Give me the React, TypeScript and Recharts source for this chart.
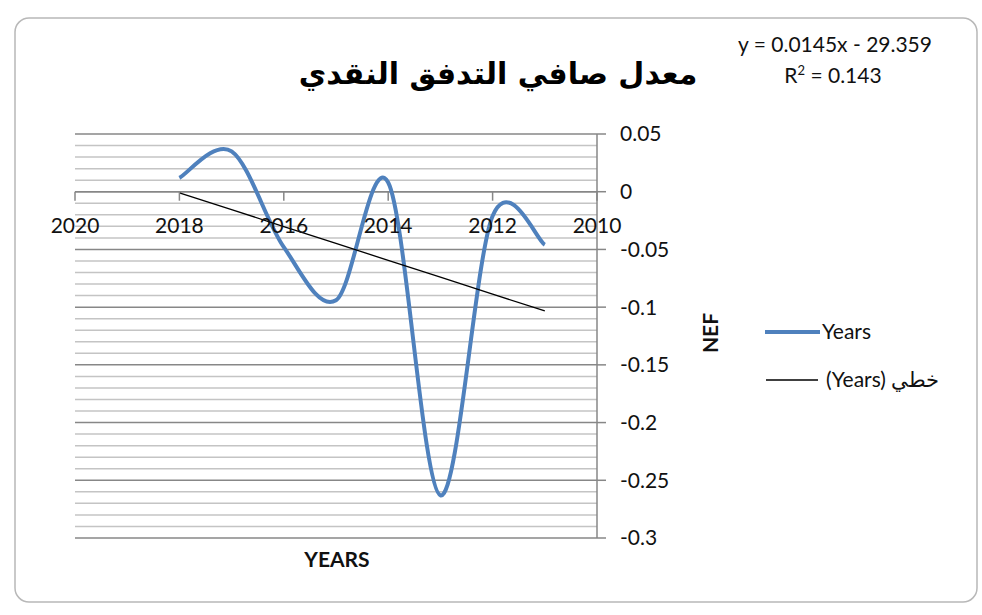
import React from "react"
import { LineChart, Line, XAxis, YAxis, CartesianGrid, ReferenceLine } from 'recharts'

const YEARS = [2018, 2017, 2016, 2015, 2014, 2013, 2012, 2011]
const NEF = [0.012, 0.035, -0.048, -0.094, 0.008, -0.263, -0.021, -0.046]
const X_TICKS = [2020, 2018, 2016, 2014, 2012, 2010]
const Y_TICKS = [0.05, 0, -0.05, -0.1, -0.15, -0.2, -0.25, -0.3]
const Y_MINOR = [0.04, 0.03, 0.02, 0.01, -0.01, -0.02, -0.03, -0.04, -0.06, -0.07, -0.08, -0.09,
  -0.11, -0.12, -0.13, -0.14, -0.16, -0.17, -0.18, -0.19, -0.21, -0.22, -0.23, -0.24,
  -0.26, -0.27, -0.28, -0.29]

const TITLE = 'معدل صافي التدفق النقدي'
const EQUATION = 'y = 0.0145x - 29.359'
const R2 = '0.143'

// least squares trend, same as the excel trendline
const n = YEARS.length
const mx = YEARS.reduce((s, v) => s + v, 0) / n
const my = NEF.reduce((s, v) => s + v, 0) / n
const slope = YEARS.reduce((s, x, i) => s + (x - mx) * (NEF[i] - my), 0) /
  YEARS.reduce((s, x) => s + (x - mx) * (x - mx), 0)
const data = YEARS.map((y, i) => ({ year: y, nef: NEF[i], trend: my + slope * (y - mx) }))

const W = 982
const H = 615
const X_AXIS_H = 30
const M = { top: 134, right: 325, bottom: 77 - X_AXIS_H, left: 75 }
const Y_MAX = 0.05
const Y_MIN = -0.3
const PLOT_H = H - M.top - 77
const ZERO_Y = M.top + (Y_MAX / (Y_MAX - Y_MIN)) * PLOT_H
const FONT = 'Lato, "Open Sans", sans-serif'
const FS = 21

// smoothed line like excel (cardinal spline through the points)
const excelCurve = (ctx: any) => {
  let pts: number[][] = []
  return {
    areaStart() {},
    areaEnd() {},
    lineStart() { pts = [] },
    point(x: number, y: number) { pts.push([+x, +y]) },
    lineEnd() {
      if (!pts.length) return
      ctx.moveTo(pts[0][0], pts[0][1])
      for (let i = 0; i < pts.length - 1; i++) {
        const p0 = pts[i - 1] || pts[i]
        const p1 = pts[i]
        const p2 = pts[i + 1]
        const p3 = pts[i + 2] || p2
        ctx.bezierCurveTo(
          p1[0] + (p2[0] - p0[0]) / 6, p1[1] + (p2[1] - p0[1]) / 6,
          p2[0] - (p3[0] - p1[0]) / 6, p2[1] - (p3[1] - p1[1]) / 6,
          p2[0], p2[1])
      }
    },
  }
}

const XTick = (props: any) => {
  const { x, payload } = props
  return (
    <g>
      <line x1={x} x2={x} y1={ZERO_Y} y2={ZERO_Y + 9} stroke="#878787" strokeWidth={1.5} />
      <text x={x} y={ZERO_Y + 41} textAnchor="middle" fontSize={FS} fill="#111" fontFamily={FONT}>
        {payload.value}
      </text>
    </g>
  )
}

export default function App() {
  return (
    <div style={{ position: 'absolute', left: 0, top: 0, width: W, height: H, background: '#fff' }}>
      <LineChart width={W} height={H} data={data} margin={M}>
        <rect x={15} y={18} width={962} height={584} rx={14} fill="none" stroke="#b8b8b8" strokeWidth={1.5} />
        <CartesianGrid vertical={false} horizontalValues={Y_MINOR} stroke="#c4c4c4" strokeWidth={1.5} />
        <CartesianGrid vertical={false} horizontalValues={Y_TICKS} stroke="#878787" strokeWidth={1.5} />
        <XAxis
          dataKey="year"
          type="number"
          domain={[2010, 2020]}
          ticks={X_TICKS}
          reversed
          height={X_AXIS_H}
          axisLine={false}
          tickLine={false}
          tick={<XTick />}
          interval={0}
        />
        <YAxis
          orientation="right"
          domain={[Y_MIN, Y_MAX]}
          ticks={Y_TICKS}
          width={60}
          interval={0}
          axisLine={{ stroke: '#878787', strokeWidth: 1.5 }}
          tickLine={{ stroke: '#878787', strokeWidth: 1.5 }}
          tickSize={9}
          tickMargin={14}
          tick={{ fontSize: FS, fill: '#111', fontFamily: FONT, textAnchor: 'start' }}
        />
        <ReferenceLine y={0} stroke="#878787" strokeWidth={1.5} />
        <Line
          dataKey="nef"
          type={excelCurve as any}
          stroke="#4F81BD"
          strokeWidth={4}
          dot={false}
          isAnimationActive={false}
        />
        <Line
          dataKey="trend"
          type="linear"
          stroke="#000"
          strokeWidth={1.3}
          dot={false}
          isAnimationActive={false}
        />
        <g>
          <line x1={765} x2={820} y1={332} y2={332} stroke="#4F81BD" strokeWidth={4} />
          <text x={822} y={339} fontSize={FS} fill="#111" fontFamily={FONT}>Years</text>
          <line x1={766} x2={818} y1={380} y2={380} stroke="#000" strokeWidth={1.3} />
          <text x={826} y={387} fontSize={FS} fill="#111" fontFamily={FONT}>(Years) خطي</text>
        </g>
        <text x={498} y={84} textAnchor="middle" fontSize={30} fontWeight="bold" fill="#000"
          fontFamily='"DejaVu Sans", sans-serif'>{TITLE}</text>
        <text x={835} y={52} textAnchor="middle" fontSize={FS} fill="#111" fontFamily={FONT}>{EQUATION}</text>
        <text x={833} y={83} textAnchor="middle" fontSize={FS} fill="#111" fontFamily={FONT}>
          R<tspan fontSize={13} dy={-8}>2</tspan><tspan dy={8}> = {R2}</tspan>
        </text>
        <text x={337} y={567} textAnchor="middle" fontSize={FS} fontWeight="bold" fill="#111" fontFamily={FONT}>YEARS</text>
        <text x={718} y={333} textAnchor="middle" fontSize={FS} fontWeight="bold" fill="#111" fontFamily={FONT}
          transform="rotate(-90 718 333)">NEF</text>
      </LineChart>
    </div>
  )
}
